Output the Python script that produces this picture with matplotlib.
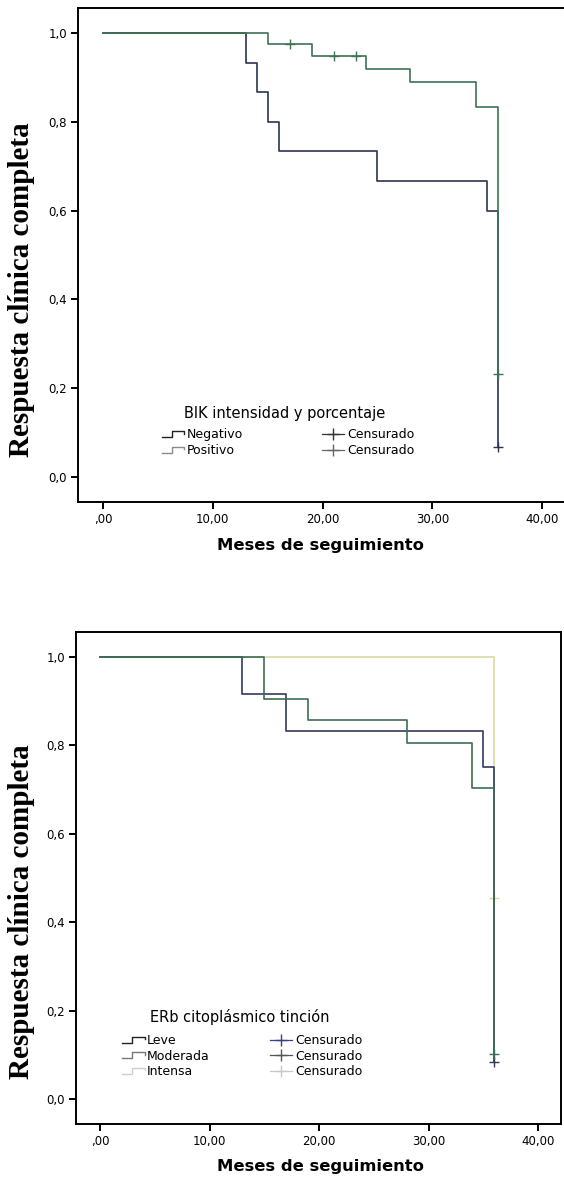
import numpy as np
import matplotlib
matplotlib.use("Agg")
import matplotlib.pyplot as plt
from matplotlib.legend_handler import HandlerBase
from matplotlib.lines import Line2D

# --- data -----------------------------------------------------------------
X_TICKS = [0, 10, 20, 30, 40]
X_TICK_LABELS = [",00", "10,00", "20,00", "30,00", "40,00"]
Y_TICKS = [0.0, 0.2, 0.4, 0.6, 0.8, 1.0]
Y_TICK_LABELS = ["0,0", "0,2", "0,4", "0,6", "0,8", "1,0"]

# BIK panel
neg_times = [0, 13, 14, 15, 16, 25, 35, 36]
neg_surv = [1.0, 0.933, 0.867, 0.800, 0.733, 0.667, 0.600, 0.067]
neg_cens_t = [36]
neg_cens_s = [0.067]

pos_times = [0, 15, 19, 24, 28, 34, 36]
pos_surv = [1.0, 0.974, 0.947, 0.919, 0.889, 0.833, 0.231]
pos_cens_t = [17, 21, 23, 36]
pos_cens_s = [0.974, 0.947, 0.947, 0.231]

# ERb panel
leve_times = [0, 13, 17, 35, 36]
leve_surv = [1.0, 0.917, 0.833, 0.750, 0.083]
leve_cens_t = [36]
leve_cens_s = [0.083]

mod_times = [0, 15, 19, 28, 34, 36]
mod_surv = [1.0, 0.905, 0.857, 0.804, 0.704, 0.102]
mod_cens_t = [36]
mod_cens_s = [0.102]

int_times = [0, 36]
int_surv = [1.0, 0.455]
int_cens_t = [36]
int_cens_s = [0.455]


class StepHandler(HandlerBase):
    # SPSS-style step icon for legend entries
    def create_artists(self, legend, orig_handle, xdescent, ydescent,
                       width, height, fontsize, trans):
        xs = np.array([0, 0.45, 0.45, 1.0, 1.0]) * width - xdescent
        ys = np.array([0.15, 0.15, 0.85, 0.85, 0.55]) * height - ydescent
        line = Line2D(xs, ys, color=orig_handle.get_color(), lw=1.0)
        line.set_transform(trans)
        return [line]


def style_axes(ax, xlim, right_spine=True):
    ax.set_xlim(*xlim)
    ax.set_ylim(-0.056, 1.056)
    ax.set_xticks(X_TICKS)
    ax.set_xticklabels(X_TICK_LABELS)
    ax.set_yticks(Y_TICKS)
    ax.set_yticklabels(Y_TICK_LABELS)
    ax.tick_params(direction="out", length=5, width=1.4, labelsize=8.5,
                   pad=3, colors="black")
    for sp in ax.spines.values():
        sp.set_linewidth(1.4)
        sp.set_color("black")
    ax.spines["right"].set_visible(right_spine)


def km(ax, times, surv, cens_t, cens_s, color, lw=1.2):
    ax.step(times, surv, where="post", color=color, lw=lw)
    ax.plot(cens_t, cens_s, linestyle="none", marker="+", ms=7,
            mew=1.0, color=color)


def km_legend(ax, handles, labels, step_handles, title, title_xy,
              anchor, colspace):
    ax.text(*title_xy, title, transform=ax.transAxes, ha="center",
            va="center", fontsize=10.5)
    ax.legend(handles, labels,
              handler_map={h: StepHandler() for h in step_handles},
              ncol=2, fontsize=9, frameon=False, loc="center left",
              bbox_to_anchor=anchor, handlelength=1.8,
              handletextpad=0.2, labelspacing=0.2, columnspacing=colspace,
              borderpad=0, borderaxespad=0)


fig = plt.figure(figsize=(5.64, 11.8), dpi=100)

# ---------------- top panel ----------------
c_neg, c_pos = "#2d3452", "#3f7356"
ax1 = fig.add_axes([0.1383, 0.5746, 0.8599, 0.4186])
km(ax1, neg_times, neg_surv, neg_cens_t, neg_cens_s, c_neg)
km(ax1, pos_times, pos_surv, pos_cens_t, pos_cens_s, c_pos)
style_axes(ax1, (-2.28, 41.9), right_spine=False)

h_neg = Line2D([], [], color="#222222")
h_pos = Line2D([], [], color="#8a8a8a")
h_cn = Line2D([], [], color="#333333", marker="+", ms=9, lw=0.9)
h_cp = Line2D([], [], color="#666666", marker="+", ms=9, lw=0.9)
km_legend(ax1, [h_neg, h_pos, h_cn, h_cp],
          ["Negativo", "Positivo", "Censurado", "Censurado"],
          [h_neg, h_pos], "BIK intensidad y porcentaje",
          (0.427, 0.180), (0.173, 0.120), 6.3)

# ---------------- bottom panel ----------------
c_leve, c_mod, c_int = "#323a5e", "#3e6e52", "#d9d9a2"
ax2 = fig.add_axes([0.1348, 0.0475, 0.8599, 0.4169])
km(ax2, int_times, int_surv, int_cens_t, int_cens_s, c_int)
km(ax2, leve_times, leve_surv, leve_cens_t, leve_cens_s, c_leve)
km(ax2, mod_times, mod_surv, mod_cens_t, mod_cens_s, c_mod)
style_axes(ax2, (-2.19, 42.1), right_spine=True)

h_l = Line2D([], [], color="#222222")
h_m = Line2D([], [], color="#777777")
h_i = Line2D([], [], color="#cfcfcf")
h_cl = Line2D([], [], color="#3a3f8a", marker="+", ms=9, lw=0.9)
h_cm = Line2D([], [], color="#555555", marker="+", ms=9, lw=0.9)
h_ci = Line2D([], [], color="#c8c8c8", marker="+", ms=9, lw=0.9)
km_legend(ax2, [h_l, h_m, h_i, h_cl, h_cm, h_ci],
          ["Leve", "Moderada", "Intensa", "Censurado", "Censurado", "Censurado"],
          [h_l, h_m, h_i], "ERb citoplásmico tinción",
          (0.338, 0.2175), (0.095, 0.138), 4.8)

# axis titles
for ylab_y, xlab_y in [(1 - 290 / 1180, 1 - 546 / 1180),
                       (1 - 912 / 1180, 1 - 1166 / 1180)]:
    fig.text(22 / 564, ylab_y, "Respuesta clínica completa", rotation=90,
             ha="center", va="center", family="Liberation Serif",
             weight="bold", fontsize=21)
    fig.text(320 / 564, xlab_y, "Meses de seguimiento", ha="center",
             va="center", family="DejaVu Sans", weight="bold", fontsize=11.8)

fig.savefig("out.png", dpi=100)
